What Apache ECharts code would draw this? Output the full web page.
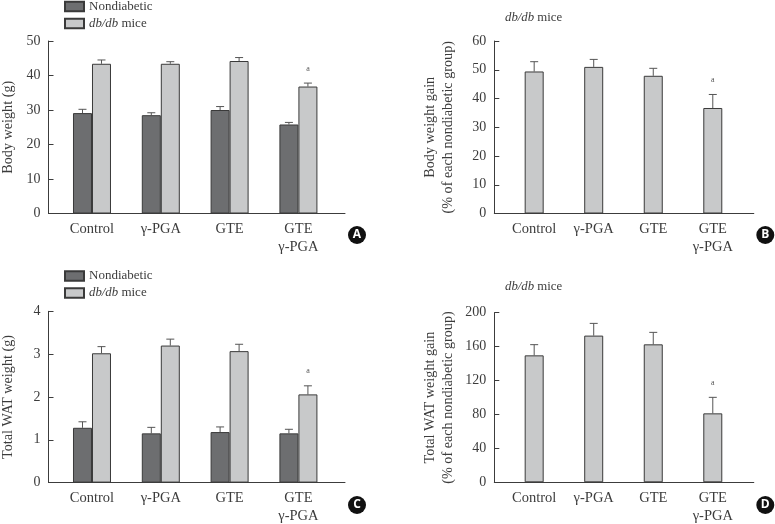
<!DOCTYPE html>
<html><head><meta charset="utf-8">
<style>html,body{margin:0;padding:0;background:#fff}#c{width:775px;height:524px}</style>
<script src="https://cdn.jsdelivr.net/npm/echarts@6/dist/echarts.min.js"></script>
</head><body><div id="c"></div>
<script>
const categories = ['Control', 'γ-PGA', 'GTE', 'GTE\nγ-PGA'];
const bodyNondiabetic = [29.1, 28.5, 30.0, 25.8];
const bodyNondiabeticErr = [30.2, 29.2, 31.0, 26.4];
const bodyDbdb = [43.4, 43.4, 44.2, 36.8];
const bodyDbdbErr = [44.5, 44.0, 45.2, 37.8];
const bodyGain = [49.4, 51.0, 47.9, 36.7];
const bodyGainErr = [52.8, 53.6, 50.5, 41.4];
const watNondiabetic = [1.28, 1.15, 1.18, 1.15];
const watNondiabeticErr = [1.42, 1.29, 1.30, 1.245];
const watDbdb = [3.02, 3.20, 3.07, 2.06];
const watDbdbErr = [3.175, 3.35, 3.23, 2.26];
const watGain = [149.7, 173, 162.7, 81.3];
const watGainErr = [162.3, 187.4, 176.8, 100.2];
const sigMarks = [42, 46.4, 2.6, 116.7];

const SERIF = '"Liberation Serif","Times New Roman",serif';
const INK = '#3c3c3c', DARK = '#6d6e70', LIGHT = '#c8c9ca', EDGE = '#3a3a3a';
const BAR = 19;
const NAME_ND = 'Nondiabetic', NAME_DB = 'db/db mice';
const dbRich = {i:{fontFamily:SERIF,fontStyle:'italic',fontSize:12.8,color:INK}};
const dbFmt = '{i|db/db} mice';

const panels = [
 {grid:{left:48.5,width:296.5,top:41,height:172.5},xMin:-0.632,xMax:3.677,yMax:50,yInt:10,name:'Body weight (g)',nameGap:31,
  groups:[{n:NAME_ND,c:DARK,v:bodyNondiabetic,e:bodyNondiabeticErr,o:-BAR/2},{n:NAME_DB,c:LIGHT,v:bodyDbdb,e:bodyDbdbErr,o:BAR/2}],sig:sigMarks[0],sigOff:BAR/2},
 {grid:{left:494.3,width:259.5,top:41,height:172.5},xMin:-0.67,xMax:3.689,yMax:60,yInt:10,name:'Body weight gain\n(% of each nondiabetic group)',nameGap:37,
  groups:[{n:NAME_DB,c:LIGHT,v:bodyGain,e:bodyGainErr,o:0}],sig:sigMarks[1],sigOff:0},
 {grid:{left:48.5,width:296.5,top:311.3,height:171.3},xMin:-0.632,xMax:3.677,yMax:4,yInt:1,name:'Total WAT weight (g)',nameGap:31,
  groups:[{n:NAME_ND,c:DARK,v:watNondiabetic,e:watNondiabeticErr,o:-BAR/2},{n:NAME_DB,c:LIGHT,v:watDbdb,e:watDbdbErr,o:BAR/2}],sig:sigMarks[2],sigOff:BAR/2},
 {grid:{left:494.3,width:259.5,top:312.7,height:169.6},xMin:-0.67,xMax:3.689,yMax:200,yInt:40,name:'Total WAT weight gain\n(% of each nondiabetic group)',nameGap:37,
  groups:[{n:NAME_DB,c:LIGHT,v:watGain,e:watGainErr,o:0}],sig:sigMarks[3],sigOff:0}
];

const series = [], grids = [], xAxes = [], yAxes = [];
panels.forEach((p, i) => {
  grids.push(Object.assign({outerBoundsMode:'none'},p.grid));
  xAxes.push({type:'value',gridIndex:i,min:p.xMin,max:p.xMax,containShape:false,splitLine:{show:false},
    axisLine:{show:true,onZero:false,lineStyle:{color:INK,width:1}},axisTick:{show:false},
    axisLabel:{customValues:[0,1,2,3],formatter:v=>categories[v],fontFamily:SERIF,fontSize:14.5,color:INK,margin:7,lineHeight:18,verticalAlign:'top',hideOverlap:false}});
  yAxes.push({type:'value',gridIndex:i,min:0,max:p.yMax,interval:p.yInt,splitLine:{show:false},
    axisLine:{show:true,onZero:false,lineStyle:{color:INK,width:1}},
    axisTick:{show:true,inside:true,length:5,lineStyle:{color:INK,width:1}},
    axisLabel:{fontFamily:SERIF,fontSize:14,color:INK,margin:8},
    name:p.name,nameLocation:'middle',nameGap:p.nameGap,nameRotate:90,
    nameTextStyle:{fontFamily:SERIF,fontSize:14.2,color:INK,lineHeight:18}});
  p.groups.forEach(g => {
    series.push({type:'bar',name:g.n,xAxisIndex:i,yAxisIndex:i,barWidth:BAR,barGap:0,z:3,
      data:g.v.map((v,k)=>[k,v]),itemStyle:{color:g.c,borderColor:EDGE,borderWidth:1},animation:false});
    series.push({type:'custom',name:g.n+' error',xAxisIndex:i,yAxisIndex:i,z:2,animation:false,silent:true,
      data:g.v.map((v,k)=>[k,v,g.e[k]]),encode:{x:0,y:[1,2]},
      renderItem:(params,api)=>{
        const lo=api.coord([api.value(0),api.value(1)]), hi=api.coord([api.value(0),api.value(2)]);
        const x=lo[0]+g.o;
        const st={stroke:'#555',lineWidth:1,fill:'none'};
        return {type:'group',children:[
          {type:'line',shape:{x1:x,y1:lo[1],x2:x,y2:hi[1]},style:st},
          {type:'line',shape:{x1:x-4,y1:hi[1],x2:x+4,y2:hi[1]},style:st}]};
      }});
  });
  series.push({type:'custom',name:'significance',xAxisIndex:i,yAxisIndex:i,animation:false,silent:true,
    data:[[3,p.sig]],encode:{x:0,y:1},
    renderItem:(params,api)=>{const c=api.coord([api.value(0),api.value(1)]);
      return {type:'text',style:{x:c[0]+p.sigOff,y:c[1],text:'a',font:'8px '+SERIF,fill:'#555',textAlign:'center',textVerticalAlign:'middle'}};}});
});

const legendFor = top => ({orient:'vertical',left:64,top,padding:0,itemWidth:19,itemHeight:9.5,itemGap:4,icon:'rect',selectedMode:false,
  data:[NAME_ND,NAME_DB],formatter:n=>n===NAME_DB?dbFmt:n,
  textStyle:{fontFamily:SERIF,fontSize:13,color:INK,rich:dbRich}});
const subtitle = top => ({text:dbFmt,left:505,top,padding:0,textStyle:{fontFamily:SERIF,fontSize:12.8,fontWeight:'normal',color:INK,rich:dbRich}});
const badge = (letter,x,y) => ({type:'group',x,y,children:[
  {type:'circle',shape:{cx:0,cy:0,r:9},style:{fill:'#111'}},
  {type:'text',style:{x:0,y:0,text:letter,fill:'#fff',font:'bold 12px "Open Sans",sans-serif',textAlign:'center',textVerticalAlign:'middle'}}]});

const chart = echarts.init(document.getElementById('c'),null,{renderer:'canvas'});
chart.setOption({animation:false,backgroundColor:'#fff',
  grid:grids,xAxis:xAxes,yAxis:yAxes,series,
  legend:[legendFor(0),legendFor(269.5)],
  title:[subtitle(11),subtitle(280)],
  graphic:[badge('A',357,235),badge('B',765.3,235),badge('C',357,505),badge('D',765.3,505)]});
</script></body></html>
